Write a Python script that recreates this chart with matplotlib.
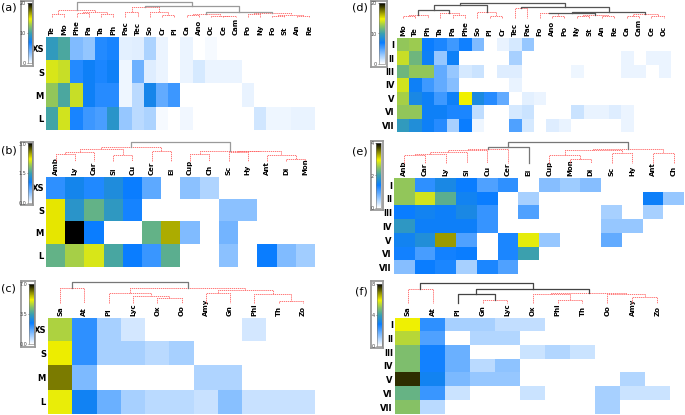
import numpy as np
import matplotlib
matplotlib.use("Agg")
import matplotlib.pyplot as plt
from matplotlib.colors import LinearSegmentedColormap

# =======================================================
# DATA

a_cols = ["Te", "Mo", "Phe", "Pa", "Ta", "Ph", "Pac", "Tec", "So", "Cr", "Pl",
          "Ca", "Ano", "Oc", "Ce", "Cam", "Po", "Ny", "Fo", "St", "An", "Re"]
a_rows = ["XS", "S", "M", "L"]
a_vals = [
    [9.5, 10.5, 3.6, 3.1, 6.3, 6.6, 0.8, 0.9, 2.4, 0.6, 0, 0.6, 0, 0.3, 0, 0, 0, 0, 0, 0, 0, 0],
    [14.2, 13.8, 6.3, 7.3, 6.5, 7.3, 0.5, 4.2, 1.0, 0.6, 0, 0.6, 1.2, 0.6, 0.6, 0.6, 0, 0, 0, 0, 0, 0],
    [12.5, 10.5, 13.8, 7.3, 6.2, 6.2, 0.5, 2.0, 7.8, 4.5, 5.6, 0, 0, 0, 0, 0, 0.7, 0, 0, 0, 0, 0],
    [10.3, 14.0, 6.6, 5.6, 5.2, 9.0, 3.0, 2.0, 2.4, 0.3, 0, 0.4, 0, 0, 0, 0, 0, 1.4, 0.5, 0.5, 0.7, 0.7],
]

b_cols = ["Amb", "Ly", "Car", "Si", "Cu", "Cer", "El", "Cup", "Ch", "Sc", "Hy", "Ant", "Di", "Mon"]
b_rows = ["XS", "S", "M", "L"]
b_vals = [
    [0.9, 1.15, 0.95, 1.25, 1.05, 0.7, 0, 0.5, 0.35, 0, 0, 0, 0, 0],
    [2.25, 1.35, 1.68, 1.4, 1.0, 0, 0, 0, 0, 0.5, 0.5, 0, 0, 0],
    [2.25, 3.0, 1.05, 0, 0, 1.68, 2.45, 0.55, 0, 0.6, 0, 0, 0, 0],
    [1.68, 1.95, 2.13, 1.56, 1.05, 0.85, 1.65, 0, 0, 0.5, 0, 1.05, 0.55, 0.4],
]

c_cols = ["Sa", "At", "Pl", "Lyc", "Ox", "Oo", "Amy", "Gn", "Phi", "Th", "Zo"]
c_rows = ["XS", "S", "M", "L"]
c_vals = [
    [4.6, 2.1, 0.9, 0.45, 0, 0, 0, 0, 0.45, 0, 0],
    [5.2, 2.1, 0.9, 0.9, 0.7, 0.9, 0, 0, 0, 0, 0],
    [6.1, 1.3, 0, 0, 0, 0, 0.8, 0.8, 0, 0, 0],
    [5.1, 2.6, 1.5, 0.9, 0.7, 0.7, 0.55, 1.2, 0.55, 0.55, 0.55],
]

d_cols = ["Mo", "Te", "Ph", "Ta", "Pa", "Phe", "So", "Pl", "Cr", "Tec", "Pac",
          "Fo", "Ano", "Po", "Ny", "St", "An", "Re", "Ca", "Cam", "Ce", "Oc"]
d_rows = ["I", "II", "III", "IV", "V", "VI", "VII"]
d_vals = [
    [12.5, 12.8, 7.0, 6.5, 5.5, 6.8, 3.6, 0, 0.7, 1.2, 3.0, 0, 0, 0, 0, 0, 0, 0, 0, 0, 0, 0],
    [13.8, 11.5, 7.3, 3.0, 7.3, 0, 0, 0, 0, 2.5, 0, 0, 0, 0, 0, 0, 0, 0, 0.6, 0, 0.6, 0.6],
    [11.5, 12.5, 12.5, 4.5, 3.0, 1.2, 1.5, 0, 1.0, 1.0, 0, 0, 0, 0, 0.5, 0, 0, 0, 0.6, 0.6, 0, 0.6],
    [14.0, 7.3, 5.5, 4.5, 3.5, 0, 0, 0, 0, 0.7, 0, 0, 0, 0, 0, 0, 0, 0, 0, 0, 0, 0],
    [13.0, 8.0, 7.3, 5.5, 7.3, 14.8, 8.2, 6.2, 4.5, 0, 0.8, 0.6, 0, 0, 0, 0, 0, 0, 0, 0, 0, 0],
    [12.5, 12.5, 7.3, 7.3, 6.5, 6.5, 1.8, 0, 0, 1.2, 1.5, 0, 0, 0, 1.5, 0.7, 0.7, 1.0, 0.6, 0, 0, 0],
    [9.5, 8.5, 7.3, 6.2, 2.5, 7.0, 0.5, 0, 0, 5.0, 1.2, 0, 1.0, 0.7, 0, 0, 0, 0, 0.6, 0, 0, 0],
]

e_cols = ["Anb", "Car", "Ly", "Si", "Cu", "Cer", "El", "Cup", "Mon", "Di", "Sc", "Hy", "Ant", "Ch"]
e_rows = ["I", "II", "III", "IV", "V", "VI", "VII"]
e_vals = [
    [2.5, 1.2, 1.6, 1.4, 1.0, 1.2, 0, 0.7, 0.55, 0.7, 0, 0, 0, 0],
    [2.5, 2.8, 2.2, 1.5, 1.4, 0, 0.5, 0, 0, 0, 0, 0, 1.45, 0.6],
    [1.4, 1.5, 1.45, 1.6, 1.15, 0, 1.0, 0, 0, 0, 0.5, 0, 0.5, 0],
    [1.85, 1.45, 1.45, 1.45, 1.15, 0, 0, 0, 0, 0, 0.6, 0.6, 0, 0],
    [1.5, 1.7, 3.35, 1.0, 0, 1.3, 2.9, 0.6, 0, 0, 0.9, 0, 0, 0],
    [1.35, 1.05, 1.35, 1.4, 0, 1.3, 2.0, 0, 0, 0, 0, 0, 0, 0],
    [0.7, 1.4, 1.3, 0.5, 1.3, 1.0, 0, 0, 0, 0, 0, 0, 0, 0],
]

f_cols = ["Sa", "At", "Pl", "Gn", "Lyc", "Ox", "Phi", "Th", "Oo", "Amy", "Zo"]
f_rows = ["I", "II", "III", "IV", "V", "VI", "VII"]
f_vals = [
    [5.9, 2.4, 1.0, 1.0, 0.7, 0.7, 0, 0, 0, 0, 0],
    [5.35, 2.0, 0, 0.9, 0.9, 0, 0, 0, 0, 0, 0],
    [4.8, 2.7, 1.7, 0, 0, 0.6, 0.9, 0.6, 0, 0, 0],
    [4.8, 2.7, 1.7, 0.8, 1.3, 0, 0, 0, 0, 0, 0],
    [7.6, 3.0, 1.5, 1.2, 1.2, 0, 0, 0, 0, 0.9, 0],
    [4.5, 2.25, 0.6, 0, 0, 0.6, 0, 0, 1.0, 0.6, 0.6],
    [4.9, 0.8, 0, 0, 0, 0, 0, 0, 1.0, 0, 0],
]

# trees: (height, kind, left, right), kind 'g' = above clusters, 'r' = inside a cluster
a_tree = (1.0, "g",
          (0.47, "r", (0.25, "r", 0, 1), (0.33, "r", (0.3, "r", 2, 3), (0.22, "r", 4, 5))),
          (0.73, "g",
           (0.68, "r", (0.37, "r", 6, 7), (0.37, "r", 8, (0.16, "r", 9, 10))),
           (0.33, "g",
            (0.25, "r", (0.15, "r", 11, 12), (0.12, "r", 13, (0.08, "r", 14, 15))),
            (0.28, "r", (0.2, "r", 16, 17), (0.15, "r", (0.1, "r", 18, 19), (0.08, "r", 20, 21))))))
b_tree = (1.0, "g",
          (0.72, "r", (0.63, "r", (0.47, "r", (0.37, "r", 0, 1), 2), (0.33, "r", 3, 4)), (0.54, "r", 5, 6)),
          (0.55, "r", (0.37, "r", 7, 8), (0.5, "r", (0.47, "r", 9, 10), (0.3, "r", 11, (0.13, "r", 12, 13)))))
c_tree = (1.0, "g", (0.71, "r", 0, 1),
          (0.71, "r", (0.48, "r", 2, (0.33, "r", 3, (0.22, "r", 4, 5))),
           (0.63, "r", (0.48, "r", 6, 7), (0.43, "r", 8, (0.1, "r", 9, 10)))))
d_tree = (1.0, "g",
          (0.85, "g",
           (0.52, "g", (0.2, "r", (0.12, "r", 0, 1), 2), (0.3, "r", 3, (0.2, "r", 4, 5))),
           (0.41, "r", 6, (0.13, "r", 7, 8))),
          (0.74, "g", (0.63, "r", 9, 10),
           (0.37, "g",
            (0.33, "g", (0.3, "r", 11, (0.15, "r", 12, 13)),
             (0.2, "r", (0.12, "r", 14, 15), (0.1, "r", 16, 17))),
            (0.26, "r", (0.15, "r", 18, 19), (0.1, "r", 20, 21)))))
e_tree = (1.0, "g",
          (0.75, "g", (0.68, "r", (0.6, "r", (0.5, "r", (0.45, "r", (0.4, "r", 0, 1), 2), 3), 4), 5), 6),
          (0.68, "r", (0.63, "r", (0.37, "r", 7, (0.2, "r", 8, 9)), (0.48, "r", 10, 11)), (0.48, "r", 12, 13)))
f_tree = (1.0, "g", (0.7, "r", 0, 1),
          (0.7, "g", (0.45, "g", 2, (0.17, "r", 3, 4)),
           (0.5, "r", (0.43, "r", 5, (0.17, "r", 6, 7)), (0.43, "r", 8, (0.3, "r", 9, 10)))))

# =======================================================
# LAYOUT (pixel boxes: left, top, right, bottom)

W, H = 685, 415

panels = [
    dict(tag="(a)", cols=a_cols, rows=a_rows, vals=a_vals, tree=a_tree, vmax=20, ticks=[0, 10, 20],
         heat=(46, 37.3, 315, 130.3), dendro=(46, 1.7, 315, 17.5), cbar=(28.3, 3.3, 32.3, 63.3),
         box=(20.7, 1, 33.3, 65.7), lab=(1, 8), solid="#9a9a9a"),
    dict(tag="(b)", cols=b_cols, rows=b_rows, vals=b_vals, tree=b_tree, vmax=3, ticks=[0, 1.5, 3],
         heat=(46, 176.7, 315, 266.7), dendro=(46, 142, 315, 161), cbar=(28, 143.5, 32, 203),
         box=(20.7, 141.7, 33.3, 205), lab=(1, 150), solid="#9a9a9a"),
    dict(tag="(c)", cols=c_cols, rows=c_rows, vals=c_vals, tree=c_tree, vmax=7, ticks=[0, 3.5, 7],
         heat=(48, 317.7, 315, 414), dendro=(48, 282, 315, 303), cbar=(29, 284, 34, 344),
         box=(20.7, 281, 35, 347), lab=(1, 288), solid="#777777"),
    dict(tag="(d)", cols=d_cols, rows=d_rows, vals=d_vals, tree=d_tree, vmax=20, ticks=[0, 10, 20],
         heat=(396.7, 38.3, 670, 131.7), dendro=(396.7, 2.7, 670, 18), cbar=(379, 3, 385, 64),
         box=(371, 1, 386.7, 66.7), lab=(352, 8), solid="#555555"),
    dict(tag="(e)", cols=e_cols, rows=e_rows, vals=e_vals, tree=e_tree, vmax=4, ticks=[0, 2, 4],
         heat=(394, 178.3, 684, 274.3), dendro=(394, 142, 684, 163), cbar=(376, 143, 381, 208),
         box=(371, 141, 382.7, 210), lab=(352, 151), solid="#777777"),
    dict(tag="(f)", cols=f_cols, rows=f_rows, vals=f_vals, tree=f_tree, vmax=8, ticks=[0, 4, 8],
         heat=(395, 317.7, 670, 414), dendro=(395, 283, 670, 303), cbar=(377, 284, 382, 346),
         box=(371, 281, 383.3, 348.3), lab=(355, 292), solid="#444444"),
]

cmap = LinearSegmentedColormap.from_list("heat", [
    (0.0, "#ffffff"), (0.35, "#0a7dff"), (0.5, "#3aa0b0"), (0.62, "#8cc460"),
    (0.74, "#f2f200"), (0.87, "#808000"), (1.0, "#000000")])


def px_axes(fig, box):
    l, t, r, b = box
    return fig.add_axes([l / W, 1 - b / H, (r - l) / W, (b - t) / H])


def draw_tree(ax, node, solid):
    if isinstance(node, int):
        return float(node), 0.0
    h, kind, left, right = node
    xl, hl = draw_tree(ax, left, solid)
    xr, hr = draw_tree(ax, right, solid)
    if kind == "g":
        ax.plot([xl, xl, xr, xr], [hl, h, h, hr], color=solid, lw=0.9, clip_on=False)
    else:
        ax.plot([xl, xl, xr, xr], [hl, h, h, hr], color="#ff6060", lw=0.6,
                ls=(0, (1.6, 0.9)), clip_on=False)
    return (xl + xr) / 2, h


fig = plt.figure(figsize=(W / 100, H / 100), dpi=100)

for p in panels:
    vals = np.array(p["vals"])
    n = vals.shape[1]

    ax = px_axes(fig, p["heat"])
    im = ax.imshow(vals, cmap=cmap, vmin=0, vmax=p["vmax"], aspect="auto", interpolation="nearest")
    ax.xaxis.tick_top()
    ax.set_xticks(range(n))
    ax.set_xticklabels(p["cols"], rotation=90, fontsize=5, fontweight="bold")
    ax.set_yticks(range(len(p["rows"])))
    ax.set_yticklabels(p["rows"], fontsize=6, fontweight="bold")
    ax.tick_params(length=0, pad=1.5)
    for s in ax.spines.values():
        s.set_visible(False)

    dax = px_axes(fig, p["dendro"])
    draw_tree(dax, p["tree"], p["solid"])
    dax.set_xlim(-0.5, n - 0.5)
    dax.set_ylim(0, 1)
    dax.axis("off")

    bax = px_axes(fig, p["box"])
    bax.set_xticks([])
    bax.set_yticks([])
    bax.patch.set_alpha(0)
    for s in bax.spines.values():
        s.set_color("#9a9a9a")
        s.set_linewidth(1.3)

    cax = px_axes(fig, p["cbar"])
    cb = fig.colorbar(im, cax=cax, ticks=p["ticks"])
    cax.yaxis.set_ticks_position("left")
    cax.tick_params(labelsize=3.5, length=1, width=0.4, pad=0.5, colors="#444444")
    cb.outline.set_linewidth(0.4)
    cb.outline.set_edgecolor("#777777")

    fig.text(p["lab"][0] / W, 1 - p["lab"][1] / H, p["tag"], fontsize=8, va="center", ha="left")

plt.savefig("out.png", dpi=100)
plt.close()
